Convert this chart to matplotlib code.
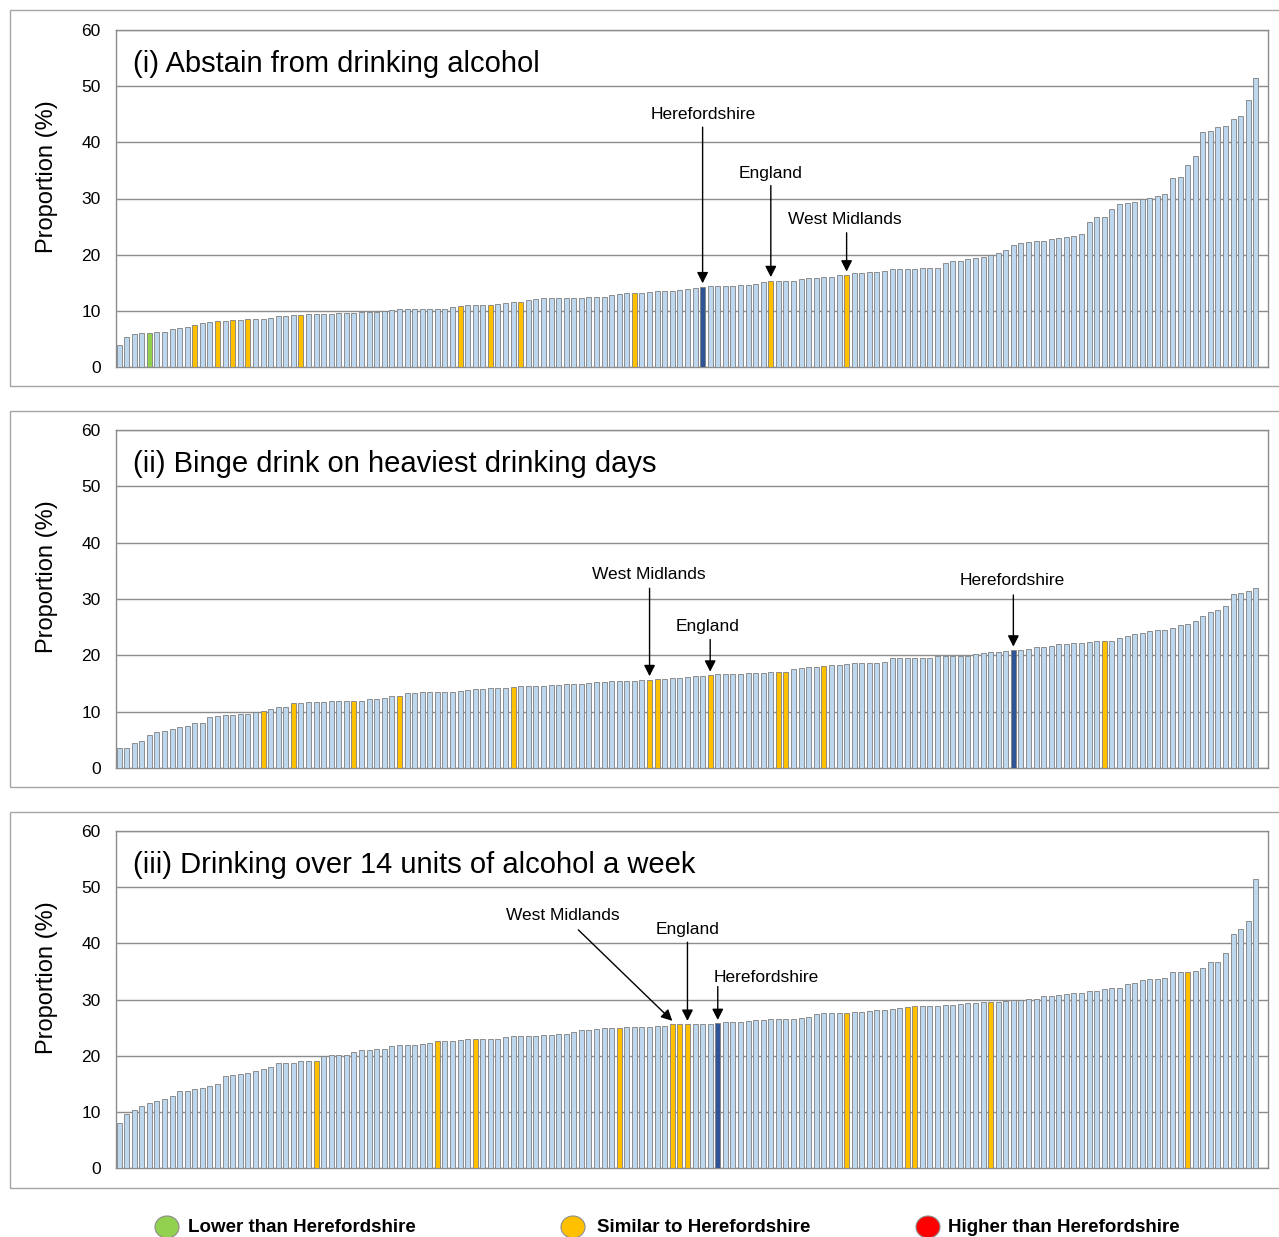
import matplotlib
matplotlib.use("Agg")
import matplotlib.pyplot as plt
from matplotlib.patches import Rectangle, Ellipse

plt.rcParams['font.family'] = ['Liberation Sans', 'DejaVu Sans']

# Sorted local authority values (%), one bar each
abstain = [3.9, 5.3, 5.9, 6.0, 6.0, 6.2, 6.2, 6.8, 6.9, 7.1,
           7.5, 7.9, 8.0, 8.2, 8.2, 8.3, 8.3, 8.5, 8.6, 8.6,
           8.8, 9.0, 9.1, 9.2, 9.3, 9.35, 9.35, 9.45, 9.45, 9.6,
           9.6, 9.6, 9.75, 9.75, 9.75, 10.05, 10.1, 10.25, 10.25, 10.25,
           10.4, 10.4, 10.4, 10.4, 10.6, 10.8, 10.95, 10.95, 11.05, 11.05,
           11.25, 11.35, 11.5, 11.65, 11.9, 12.05, 12.2, 12.3, 12.35, 12.35,
           12.35, 12.35, 12.5, 12.5, 12.55, 12.8, 13.0, 13.1, 13.1, 13.25,
           13.4, 13.45, 13.5, 13.55, 13.7, 13.85, 14.1, 14.3, 14.5, 14.5,
           14.5, 14.5, 14.6, 14.6, 14.8, 15.15, 15.4, 15.4, 15.4, 15.4,
           15.7, 15.8, 15.85, 16.0, 16.1, 16.3, 16.4, 16.7, 16.8, 16.85,
           16.85, 17.15, 17.4, 17.4, 17.4, 17.5, 17.7, 17.7, 17.7, 18.6,
           18.9, 18.9, 19.2, 19.4, 19.6, 19.9, 20.3, 20.9, 21.7, 22.1,
           22.25, 22.4, 22.5, 22.8, 23.0, 23.1, 23.3, 23.7, 25.8, 26.7,
           26.7, 28.2, 29.05, 29.2, 29.35, 29.9, 30.1, 30.5, 30.8, 33.7,
           33.8, 36.0, 37.6, 41.8, 42.1, 42.7, 42.9, 44.1, 44.7, 47.6, 51.5]

binge = [3.5, 3.6, 4.5, 4.85, 5.85, 6.45, 6.55, 7.0, 7.2, 7.4,
         7.9, 8.05, 9.0, 9.2, 9.35, 9.35, 9.5, 9.5, 9.9, 10.1,
         10.5, 10.8, 10.8, 11.6, 11.6, 11.8, 11.8, 11.8, 11.9, 11.9,
         11.9, 11.9, 11.9, 12.25, 12.25, 12.5, 12.7, 12.7, 13.35, 13.35,
         13.55, 13.55, 13.55, 13.55, 13.55, 13.7, 13.85, 14.0, 14.0, 14.15,
         14.2, 14.2, 14.3, 14.5, 14.6, 14.6, 14.6, 14.8, 14.8, 15.0,
         15.0, 15.0, 15.15, 15.3, 15.3, 15.4, 15.4, 15.4, 15.4, 15.6,
         15.7, 15.75, 15.8, 16.0, 16.05, 16.2, 16.3, 16.4, 16.5, 16.6,
         16.6, 16.6, 16.75, 16.9, 16.9, 16.9, 17.05, 17.05, 17.05, 17.5,
         17.7, 17.9, 17.9, 18.1, 18.35, 18.35, 18.5, 18.65, 18.65, 18.65,
         18.65, 18.75, 19.5, 19.5, 19.5, 19.5, 19.6, 19.6, 19.8, 19.8,
         19.85, 19.95, 19.95, 20.2, 20.4, 20.55, 20.55, 20.85, 20.95, 20.95,
         21.2, 21.45, 21.45, 21.6, 22.1, 22.1, 22.25, 22.25, 22.45, 22.6,
         22.6, 22.6, 23.0, 23.4, 23.7, 23.95, 24.3, 24.55, 24.55, 24.85,
         25.3, 25.5, 26.1, 27.05, 27.75, 28.05, 28.7, 30.9, 31.0, 31.5, 31.95]

over14 = [7.95, 9.7, 10.3, 10.95, 11.5, 12.0, 12.3, 12.75, 13.75, 13.75,
          14.1, 14.25, 14.55, 14.9, 16.3, 16.5, 16.8, 17.0, 17.35, 17.7,
          18.0, 18.75, 18.75, 18.75, 19.1, 19.1, 19.1, 20.0, 20.05, 20.2,
          20.2, 20.7, 21.0, 21.0, 21.2, 21.2, 21.65, 21.85, 21.85, 21.85,
          22.15, 22.3, 22.55, 22.65, 22.65, 22.8, 22.95, 22.95, 22.95, 22.95,
          22.95, 23.25, 23.5, 23.5, 23.5, 23.5, 23.6, 23.6, 23.8, 23.8,
          24.2, 24.55, 24.6, 24.75, 24.85, 25.0, 25.0, 25.1, 25.1, 25.1,
          25.1, 25.2, 25.35, 25.6, 25.6, 25.6, 25.6, 25.6, 25.6, 25.75,
          25.95, 26.05, 26.05, 26.2, 26.35, 26.35, 26.5, 26.5, 26.5, 26.5,
          26.65, 26.9, 27.35, 27.55, 27.65, 27.65, 27.65, 27.85, 27.85, 28.0,
          28.15, 28.15, 28.35, 28.55, 28.65, 28.8, 28.8, 28.8, 28.8, 28.95,
          28.95, 29.15, 29.3, 29.3, 29.5, 29.6, 29.6, 29.8, 30.0, 30.0,
          30.15, 30.15, 30.6, 30.6, 30.8, 30.9, 31.1, 31.1, 31.6, 31.6,
          31.9, 32.05, 32.05, 32.7, 33.0, 33.5, 33.65, 33.65, 33.8, 34.95,
          34.95, 34.95, 35.15, 35.65, 36.6, 36.75, 38.2, 41.7, 42.6, 43.9, 51.4]

# Bar positions (index in sorted order) that get a highlight colour
abstain_similar = [10, 13, 15, 17, 24, 45, 49, 53, 68, 86, 96]
abstain_lower = [4]
abstain_hfd = 77
binge_similar = [19, 23, 31, 37, 52, 70, 71, 78, 87, 88, 93, 130]
binge_lower = []
binge_hfd = 118
over14_similar = [26, 42, 47, 66, 73, 74, 75, 96, 104, 105, 115, 141]
over14_lower = []
over14_hfd = 79

titles = ['(i) Abstain from drinking alcohol',
          '(ii) Binge drink on heaviest drinking days',
          '(iii) Drinking over 14 units of alcohol a week']
legend_labels = ['Lower than Herefordshire', 'Similar to Herefordshire', 'Higher than Herefordshire']

BASE = '#BDD7EE'
SIMILAR = '#FFC000'
LOWER = '#92D050'
HIGHER = '#FF0000'
HFD = '#2F5597'
GRID = '#8C8C8C'

W, H = 1279, 1237


def plot_panel(ax, values, similar, lower, hfd, title, notes):
    colors = []
    for i in range(len(values)):
        if i == hfd:
            colors.append(HFD)
        elif i in similar:
            colors.append(SIMILAR)
        elif i in lower:
            colors.append(LOWER)
        else:
            colors.append(BASE)
    ax.bar(range(len(values)), values, width=0.66, color=colors,
           edgecolor='#7F7F7F', linewidth=0.6, zorder=3)

    ax.set_ylim(0, 60)
    ax.set_xlim(-0.4, len(values) + 0.6)
    ax.set_yticks(range(0, 61, 10))
    ax.yaxis.grid(True, color=GRID, linewidth=1.0, zorder=0)
    ax.set_axisbelow(True)
    ax.set_xticks([])
    ax.tick_params(axis='y', length=0, pad=11, labelsize=12.5)
    for s in ax.spines.values():
        s.set_color(GRID)
        s.set_linewidth(1.0)
    ax.set_ylabel('Proportion (%)', fontsize=17)
    ax.yaxis.set_label_coords(-0.05, 0.565)
    ax.text(0.0148, 0.9, title, transform=ax.transAxes, fontsize=21,
            va='center', ha='left')

    # labels with arrows pointing at a bar
    for label, idx, tx, ty, ax0, ay0 in notes:
        ax.text(tx, ty, label, fontsize=12.5, ha='center', va='center')
        ax.annotate('', xy=(idx, values[idx] + 0.6), xytext=(ax0, ay0),
                    arrowprops=dict(arrowstyle='-|>,head_length=0.55,head_width=0.28',
                                    color='black', lw=1, mutation_scale=12,
                                    shrinkA=0, shrinkB=0))


fig = plt.figure(figsize=(W / 100, H / 100), dpi=100)

# outer panel frames
for top, bottom in [(10, 386), (411, 787), (812, 1188)]:
    fig.add_artist(Rectangle((10 / W, 1 - bottom / H), (W + 20 - 10) / W, (bottom - top) / H,
                             transform=fig.transFigure, fill=False,
                             edgecolor='#A6A6A6', linewidth=1))

left = 116 / W
width = (1268 - 116) / W

ax1 = fig.add_axes([left, 1 - 367 / H, width, 337 / H])
plot_panel(ax1, abstain, abstain_similar, abstain_lower, abstain_hfd, titles[0], [
    ('Herefordshire', 77, 77.07, 44.9, 77, 42.7),
    ('England', 86, 86.0, 34.5, 86, 32.3),
    ('West Midlands', 96, 95.8, 26.2, 96, 23.9),
])

ax2 = fig.add_axes([left, 1 - 768 / H, width, 338 / H])
plot_panel(ax2, binge, binge_similar, binge_lower, binge_hfd, titles[1], [
    ('West Midlands', 70, 69.9, 34.4, 70, 31.9),
    ('England', 78, 77.7, 25.2, 78, 22.8),
    ('Herefordshire', 118, 117.9, 33.2, 118, 30.7),
])

ax3 = fig.add_axes([left, 1 - 1168 / H, width, 337 / H])
plot_panel(ax3, over14, over14_similar, over14_lower, over14_hfd, titles[2], [
    ('West Midlands', 73, 58.5, 45.0, 60.6, 42.4),
    ('England', 75, 75.0, 42.4, 75, 40.2),
    ('Herefordshire', 79, 85.4, 34.0, 79, 32.3),
])

# legend row at the bottom
for cx, tx, col, lab in [(167, 188, LOWER, legend_labels[0]),
                         (573, 597, SIMILAR, legend_labels[1]),
                         (928, 948, HIGHER, legend_labels[2])]:
    fig.add_artist(Ellipse((cx / W, 1 - 1227 / H), 24 / W, 22 / H,
                           transform=fig.transFigure, facecolor=col,
                           edgecolor='#8C8C8C', linewidth=0.8))
    fig.text(tx / W, 1 - 1227 / H, lab, fontsize=13.5, fontweight='bold',
             va='center', ha='left')

plt.savefig('out.png', dpi=100)
